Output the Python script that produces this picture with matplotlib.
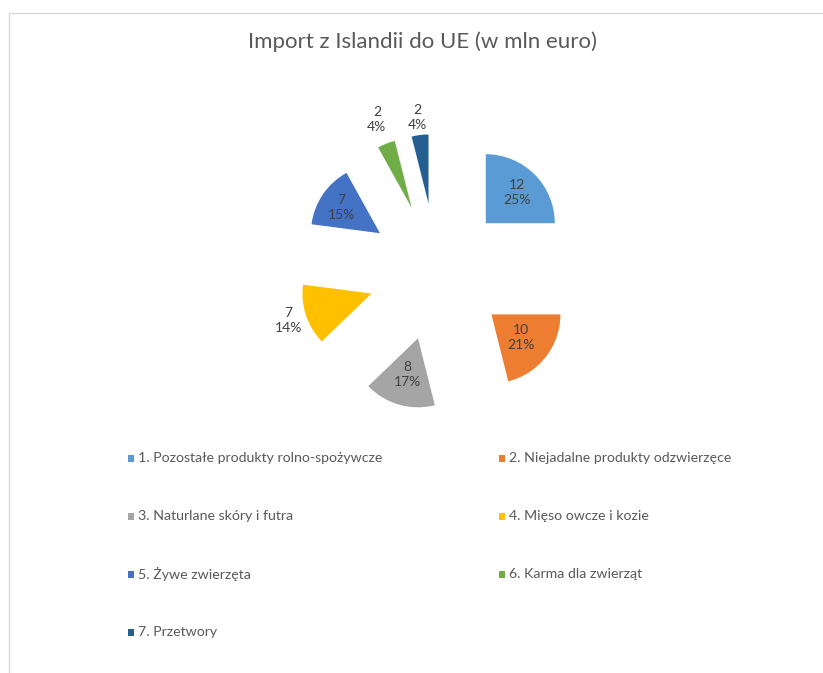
import matplotlib.pyplot as plt
from matplotlib.patches import Rectangle
import numpy as np

plt.rcParams['font.family'] = ['Lato', 'DejaVu Sans']

# Data (mln euro)
categories = [
    "1. Pozostałe produkty rolno-spożywcze",
    "2. Niejadalne produkty odzwierzęce",
    "3. Naturlane skóry i futra",
    "4. Mięso owcze i kozie",
    "5. Żywe zwierzęta",
    "6. Karma dla zwierząt",
    "7. Przetwory",
]
values = [12.1, 10.2, 8.1, 6.9, 7.2, 2.0, 1.9]
colors = ["#5B9BD5", "#ED7D31", "#A5A5A5", "#FFC000", "#4472C4", "#70AD47", "#255E91"]

# Layout in pixels
W, H = 823, 673
cx, cy = 437, 272   # pie centre (from top-left)
R = 69              # pie radius
label_dist = [1.63, 1.55, 1.55, 2.27, 1.67, 2.37, 2.26]

fig = plt.figure(figsize=(W / 100, H / 100), dpi=100)
ax = fig.add_axes([0, 0, 1, 1])

wedges, _ = ax.pie(values, colors=colors, startangle=90, counterclock=False,
                   explode=[1.0] * len(values), radius=1,
                   wedgeprops=dict(linewidth=0))
ax.set_aspect('auto')
ax.set_xlim(-cx / R, (W - cx) / R)
ax.set_ylim(-(H - cy) / R, cy / R)
ax.axis('off')

# Data labels: value and percentage
total = sum(values)
for w, v, d in zip(wedges, values, label_dist):
    ang = np.radians((w.theta1 + w.theta2) / 2)
    ax.text(d * np.cos(ang), d * np.sin(ang),
            f"{v:.0f}\n{v / total * 100:.0f}%",
            ha='center', va='center', fontsize=10, color='#404040',
            linespacing=1.3)

# Title
fig.text(423 / W, 1 - 42 / H, "Import z Islandii do UE (w mln euro)",
         ha='center', va='center', fontsize=16, color='#595959')

# Legend, two columns, row-wise order
for i, (lab, col) in enumerate(zip(categories, colors)):
    row, c = divmod(i, 2)
    x = 128 + c * 371
    y = 458 + row * 58
    fig.add_artist(Rectangle((x / W, 1 - (y + 3.5) / H), 6 / W, 7 / H,
                             transform=fig.transFigure, color=col, lw=0))
    fig.text((x + 10) / W, 1 - y / H, lab, ha='left', va='center',
             fontsize=10.2, color='#595959')

# Chart border
fig.add_artist(Rectangle((9 / W, -0.05), 1.0, 1 - 13 / H + 0.05,
                         transform=fig.transFigure, fill=False,
                         edgecolor='#d9d9d9', lw=1))

fig.savefig("out.png", dpi=100, facecolor='white')
